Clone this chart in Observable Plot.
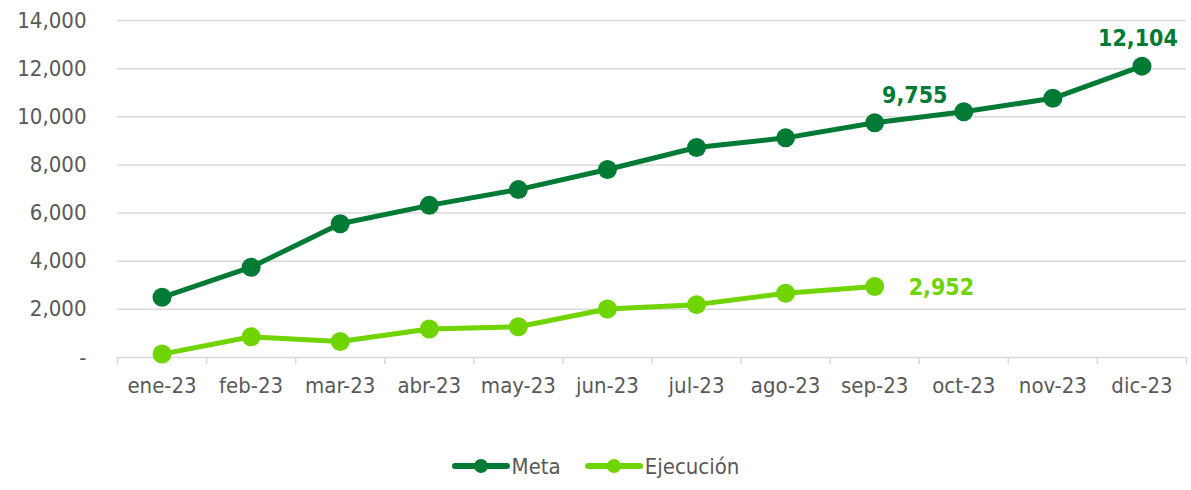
<!DOCTYPE html>
<html>
<head>
<meta charset="utf-8">
<script src="https://cdn.jsdelivr.net/npm/d3@7"></script>
<script src="https://cdn.jsdelivr.net/npm/@observablehq/plot@0.6"></script>
<style>
  html, body { margin: 0; padding: 0; background: #fff; }
  body { font-family: "DejaVu Sans Condensed", "DejaVu Sans", Verdana, sans-serif; width: 1191px; }
  #legend { display: flex; justify-content: center; align-items: center; height: 40px; margin-top: 36px; font-size: 22px; color: #595959; }
  .item { display: flex; align-items: center; margin: 0 12px; }
  .item svg { margin-right: 2px; }
</style>
</head>
<body>
<div id="chart"></div>
<div id="legend"></div>
<script>
const months = ["ene-23","feb-23","mar-23","abr-23","may-23","jun-23","jul-23","ago-23","sep-23","oct-23","nov-23","dic-23"];
const meta = [2500, 3750, 5558, 6321, 6975, 7808, 8725, 9125, 9755, 10208, 10767, 12104];
const ejecucion = [142, 862, 667, 1183, 1279, 2017, 2196, 2667, 2952];
const yTicks = [0, 2000, 4000, 6000, 8000, 10000, 12000, 14000];
const seriesNames = ["Meta", "Ejecución"];
const colors = ["#017a35", "#6fd400"];

const metaData = meta.map((v, i) => ({i, v}));
const ejeData = ejecucion.map((v, i) => ({i, v}));
const centers = months.map((m, i) => i);
const bounds = d3.range(months.length + 1).map(i => i - 0.5);
const fmt = d3.format(",");

const chart = Plot.plot({
  width: 1191,
  height: 410,
  marginTop: 20,
  marginBottom: 53,
  marginLeft: 117,
  marginRight: 5,
  style: {fontFamily: "DejaVu Sans Condensed, DejaVu Sans, Verdana, sans-serif", fontSize: "22px", color: "#595959", background: "#fff"},
  x: {type: "linear", domain: [-0.5, months.length - 0.5]},
  y: {domain: [0, 14000]},
  marks: [
    Plot.gridY(yTicks, {stroke: "#d9d9d9", strokeOpacity: 1, strokeWidth: 1.5}),
    Plot.axisY(yTicks, {tickSize: 0, tickPadding: 31, tickFormat: d => d === 0 ? "-" : fmt(d), fill: "#595959", fontSize: 22, label: null}),
    Plot.axisX(bounds, {tickSize: 7, tickFormat: () => "", stroke: "#d9d9d9", strokeWidth: 1.5, label: null}),
    Plot.axisX(centers, {tickSize: 0, tickPadding: 20, tickFormat: i => months[i], fill: "#595959", fontSize: 22, label: null}),
    Plot.line(metaData, {x: "i", y: "v", stroke: colors[0], strokeWidth: 5}),
    Plot.dot(metaData, {x: "i", y: "v", r: 9.5, fill: colors[0], stroke: null}),
    Plot.line(ejeData, {x: "i", y: "v", stroke: colors[1], strokeWidth: 5}),
    Plot.dot(ejeData, {x: "i", y: "v", r: 9.5, fill: colors[1], stroke: null}),
    Plot.text(metaData.filter(d => d.i === 11), {x: "i", y: "v", text: d => fmt(d.v), dx: -4, dy: -28, fill: colors[0], fontWeight: "bold", fontSize: 23}),
    Plot.text(metaData.filter(d => d.i === 8), {x: "i", y: "v", text: d => fmt(d.v), dx: 40, dy: -27, fill: colors[0], fontWeight: "bold", fontSize: 23}),
    Plot.text(ejeData.filter(d => d.i === 8), {x: "i", y: "v", text: d => fmt(d.v), dx: 34, dy: 1, textAnchor: "start", fill: colors[1], fontWeight: "bold", fontSize: 23})
  ]
});
document.getElementById("chart").appendChild(chart);

const legend = document.getElementById("legend");
seriesNames.forEach((name, k) => {
  const item = document.createElement("div");
  item.className = "item";
  item.innerHTML = `<svg width="58" height="20"><line x1="3" y1="10" x2="55" y2="10" stroke="${colors[k]}" stroke-width="6" stroke-linecap="round"/><circle cx="29" cy="10" r="7" fill="${colors[k]}"/></svg><span>${name}</span>`;
  legend.appendChild(item);
});
</script>
</body>
</html>
